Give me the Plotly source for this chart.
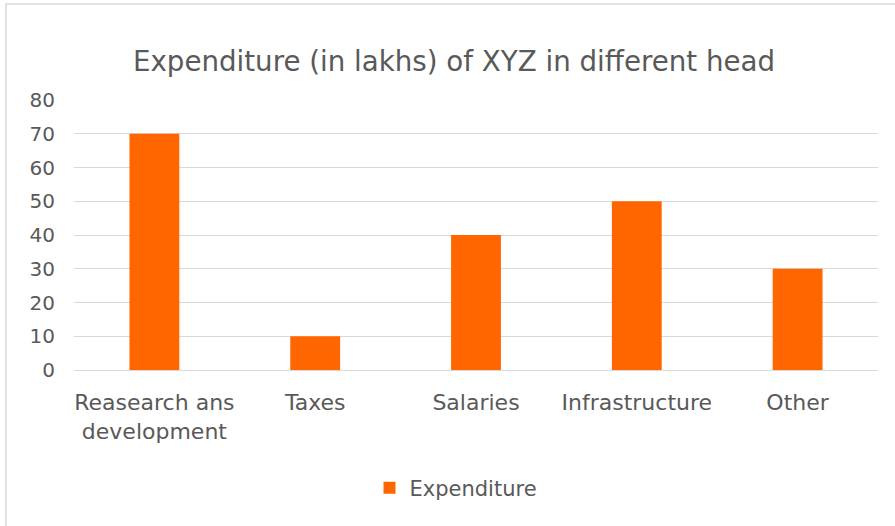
import plotly.graph_objects as go

categories = ["Reasearch ans<br>development", "Taxes", "Salaries", "Infrastructure", "Other"]
expenditure = [70, 10, 40, 50, 30]
series_name = "Expenditure"
y_ticks = [0, 10, 20, 30, 40, 50, 60, 70, 80]

FONT = "DejaVu Sans, Liberation Sans, sans-serif"
GREY = "#595959"
GRID = "#d9d9d9"

fig = go.Figure()
fig.add_trace(go.Bar(
    x=categories, y=expenditure, name=series_name,
    marker=dict(color="#ff6600", line=dict(width=0)),
    width=0.31, showlegend=True,
))

L, R, T, B = 74, 17, 100, 156
W, H = 895, 526
pw, ph = W - L - R, H - T - B

def px_x(v):
    return (v - L) / pw

def px_y(v):
    return (H - B - v) / ph

fig.update_layout(
    width=W, height=H,
    margin=dict(l=L, r=R, t=T, b=B, autoexpand=False),
    paper_bgcolor="white", plot_bgcolor="white",
    font=dict(family=FONT, color=GREY, size=20),
    title=dict(text="Expenditure (in lakhs) of XYZ in different head",
               x=454 / W, xanchor="center", y=1 - 61 / H, yanchor="middle",
               font=dict(size=27.7, color=GREY, family=FONT)),
    xaxis=dict(showgrid=False, showline=False, ticks="", ticklabelstandoff=17,
               tickfont=dict(size=22, color=GREY)),
    yaxis=dict(range=[0, 80], tickvals=y_ticks, showgrid=True, gridcolor=GRID,
               gridwidth=1, zeroline=True, zerolinecolor=GRID, zerolinewidth=1,
               showline=False, ticks="", ticklabelstandoff=18,
               tickfont=dict(size=20, color=GREY)),
    legend=dict(orientation="h", x=px_x(456), xanchor="center",
                y=px_y(488), yanchor="middle",
                font=dict(size=21, color=GREY), itemwidth=30),
    shapes=[dict(type="rect", xref="paper", yref="paper",
                 x0=px_x(6), x1=px_x(905), y0=px_y(4), y1=px_y(540),
                 line=dict(color=GRID, width=1.5), fillcolor="rgba(0,0,0,0)",
                 layer="below")],
)

fig.write_html("out.html", config={"displayModeBar": False},
               post_script="document.body.style.margin='0px';")
